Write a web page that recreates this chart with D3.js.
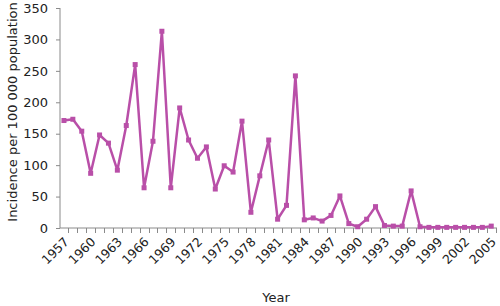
<!DOCTYPE html>
<html>
<head>
<meta charset="utf-8">
<script src="https://cdn.jsdelivr.net/npm/d3@7"></script>
<style>
  body { margin: 0; background: #fff; }
  text { font-family: "DejaVu Sans", Verdana, sans-serif; fill: #222; }
</style>
</head>
<body>
<script>
var years = d3.range(1957, 2006);
var incidence = [171, 173, 154, 87, 148, 135, 92, 163, 260, 64,
                 138, 313, 64, 191, 140, 111, 129, 62, 99, 89,
                 170, 25, 83, 140, 14, 36, 242, 13, 16, 11,
                 20, 51, 7, 2, 14, 34, 4, 3, 3, 59,
                 2, 1, 1, 1, 1, 1, 1, 1, 3];
var yTicks = [0, 50, 100, 150, 200, 250, 300, 350];
var labelYears = years.filter(function(d) { return (d - 1957) % 3 == 0; });

var width = 500,
    height = 306;

var svg = d3.select("body").append("svg")
    .attr("width", width)
    .attr("height", height);

var x = d3.scaleBand()
    .domain(years)
    .range([59.5, 495.7])
    .padding(0);

var y = d3.scaleLinear()
    .domain([0, 350])
    .range([228, 8]);

var axisColor = "#8a8a8a";

// y axis
var yAxis = svg.append("g")
    .attr("transform", "translate(60,0)")
    .call(d3.axisLeft(y).tickValues(yTicks).tickSize(4).tickPadding(8));
yAxis.select(".domain").attr("stroke", axisColor).attr("d", "M0," + y(350) + "V" + y(0));
yAxis.selectAll(".tick line").attr("stroke", axisColor);
yAxis.selectAll(".tick text").attr("font-size", 13).attr("fill", "#222");

// x axis line
svg.append("line")
    .attr("x1", 60).attr("x2", 497)
    .attr("y1", y(0)).attr("y2", y(0))
    .attr("stroke", axisColor);

// tick marks at the band edges
var edges = years.map(function(d) { return x(d); }).concat([x.range()[1]]);
svg.append("g").selectAll("line")
    .data(edges.slice(1))
    .enter().append("line")
    .attr("x1", function(d) { return Math.round(d) + 0.5; })
    .attr("x2", function(d) { return Math.round(d) + 0.5; })
    .attr("y1", y(0))
    .attr("y2", y(0) + 5)
    .attr("stroke", axisColor);

// x tick labels
svg.append("g").selectAll("text")
    .data(labelYears)
    .enter().append("text")
    .attr("font-size", 12.5)
    .attr("text-anchor", "end")
    .attr("transform", function(d) {
        var cx = x(d) + x.bandwidth() / 2;
        return "translate(" + (cx - 1) + "," + (y(0) + 8) + ") rotate(-45)";
    })
    .attr("dy", "0.75em")
    .text(function(d) { return d; });

// line
var line = d3.line()
    .x(function(d, i) { return x(years[i]) + x.bandwidth() / 2; })
    .y(function(d) { return y(d); });

svg.append("path")
    .datum(incidence)
    .attr("fill", "none")
    .attr("stroke", "#b94fa8")
    .attr("stroke-width", 2.5)
    .attr("stroke-linejoin", "round")
    .attr("d", line);

svg.append("g").selectAll("rect")
    .data(incidence)
    .enter().append("rect")
    .attr("x", function(d, i) { return x(years[i]) + x.bandwidth() / 2 - 2.5; })
    .attr("y", function(d) { return y(d) - 2.5; })
    .attr("width", 5)
    .attr("height", 5)
    .attr("fill", "#b94fa8");

// axis titles
svg.append("text")
    .attr("font-size", 13)
    .attr("text-anchor", "middle")
    .attr("transform", "translate(17,112) rotate(-90)")
    .text("Incidence per 100 000 population");

svg.append("text")
    .attr("font-size", 13)
    .attr("text-anchor", "middle")
    .attr("x", 276)
    .attr("y", 302)
    .text("Year");
</script>
</body>
</html>
